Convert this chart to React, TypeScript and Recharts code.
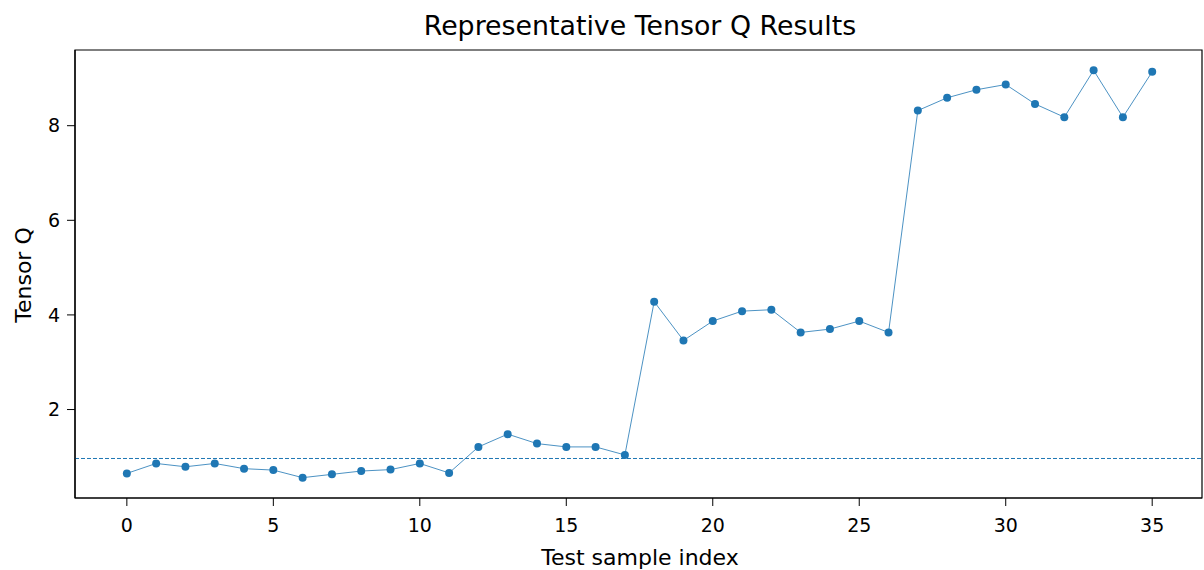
import { LineChart, Line, XAxis, YAxis, ReferenceLine, ReferenceArea } from "recharts";

// Tensor Q per test sample.
const sampleIndex = [
  0, 1, 2, 3, 4, 5, 6, 7, 8, 9, 10, 11, 12, 13, 14, 15, 16, 17,
  18, 19, 20, 21, 22, 23, 24, 25, 26, 27, 28, 29, 30, 31, 32, 33, 34, 35,
];
const tensorQ = [
  0.65, 0.86, 0.79, 0.86, 0.75, 0.72, 0.56, 0.63, 0.7, 0.73, 0.86, 0.66,
  1.21, 1.48, 1.28, 1.21, 1.21, 1.04,
  4.28, 3.46, 3.87, 4.08, 4.11, 3.63, 3.7, 3.87, 3.63,
  8.32, 8.59, 8.76, 8.87, 8.46, 8.18, 9.17, 8.18, 9.14,
];
const threshold = 0.965;
const xTicks = [0, 5, 10, 15, 20, 25, 30, 35];
const yTicks = [2, 4, 6, 8];
const xDomain: [number, number] = [-1.77, 36.7];
const yDomain: [number, number] = [0.13, 9.6];

const data = sampleIndex.map((idx, i) => ({ idx, q: tensorQ[i] }));

const FONT = "'DejaVu Sans', sans-serif";
const BLUE = "#1f77b4";
const tickStyle = { fontSize: 19, fill: "#000", fontFamily: FONT };

const XLabel = () => (
  <text x={640} y={565} textAnchor="middle" fontSize={22} fontFamily={FONT} fill="#000">
    Test sample index
  </text>
);

const YLabel = () => (
  <text
    x={23}
    y={275}
    transform="rotate(-90, 23, 275)"
    textAnchor="middle"
    dominantBaseline="central"
    fontSize={22}
    fontFamily={FONT}
    fill="#000"
  >
    Tensor Q
  </text>
);

export default function App() {
  return (
    <div style={{ position: "absolute", left: 0, top: 0, width: 1204, height: 570, background: "#fff" }}>
      <svg width={1204} height={50} style={{ position: "absolute", left: 0, top: 0 }}>
        <text x={640} y={35} textAnchor="middle" fontSize={26.8} fontFamily={FONT} fill="#000">
          Representative Tensor Q Results
        </text>
      </svg>
      <LineChart width={1204} height={570} data={data} margin={{ top: 50, right: 2, bottom: 0, left: 0 }}>
        <XAxis
          dataKey="idx"
          type="number"
          domain={xDomain}
          ticks={xTicks}
          allowDataOverflow
          height={72}
          tickSize={8}
          tickMargin={13}
          tick={tickStyle}
          axisLine={{ stroke: "#000", strokeWidth: 1.2 }}
          tickLine={{ stroke: "#000" }}
          label={() => <XLabel />}
        />
        <YAxis
          type="number"
          domain={yDomain}
          ticks={yTicks}
          allowDataOverflow
          width={75}
          tickSize={8}
          tickMargin={7}
          tick={tickStyle}
          axisLine={{ stroke: "#000", strokeWidth: 1.2 }}
          tickLine={{ stroke: "#000" }}
          label={() => <YLabel />}
        />
        <ReferenceArea
          x1={xDomain[0]}
          x2={xDomain[1]}
          y1={yDomain[0]}
          y2={yDomain[1]}
          fill="none"
          stroke="#000"
          strokeWidth={1.2}
        />
        <ReferenceLine y={threshold} stroke={BLUE} strokeWidth={1} strokeDasharray="4 2" />
        <Line
          type="linear"
          dataKey="q"
          stroke={BLUE}
          strokeWidth={1}
          strokeOpacity={0.8}
          dot={{ r: 4, fill: BLUE, stroke: "none" }}
          activeDot={false}
          isAnimationActive={false}
        />
      </LineChart>
    </div>
  );
}
